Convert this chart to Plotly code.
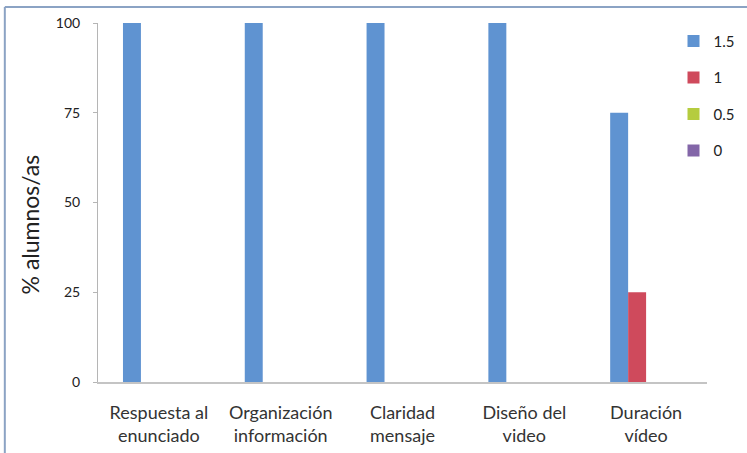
import plotly.graph_objects as go

categories = ["Respuesta al<br>enunciado", "Organización<br>información", "Claridad<br>mensaje",
              "Diseño del<br>video", "Duración<br>vídeo"]
series_names = ["1.5", "1", "0.5", "0"]
v_15 = [100, 100, 100, 100, 75]
v_1 = [0, 0, 0, 0, 25]
v_05 = [0, 0, 0, 0, 0]
v_0 = [0, 0, 0, 0, 0]
y_ticks = [0, 25, 50, 75, 100]

colors = ["#5f93d1", "#cf4a5c", "#b5cc3f", "#8366a8"]
values = [v_15, v_1, v_05, v_0]

fig = go.Figure()
for i, (name, vals, col) in enumerate(zip(series_names, values, colors)):
    fig.add_trace(go.Bar(x=categories, y=vals, name=name, legendgroup=name,
                         marker=dict(color=col, line=dict(width=0))))

FONT = "Lato"
fig.update_layout(
    width=747, height=453,
    margin=dict(l=98, r=40, t=23, b=71, autoexpand=False),
    paper_bgcolor="white", plot_bgcolor="white",
    barmode="group", bargap=0.41, bargroupgap=0,
    font=dict(family=FONT, color="#222222"),
    showlegend=True,
    legend=dict(x=0.945, xanchor="left", y=0.995, yanchor="top",
                font=dict(size=15, family=FONT, color="#222222"),
                tracegroupgap=14, itemwidth=30, bgcolor="rgba(0,0,0,0)"),
    shapes=[
        dict(type="line", xref="paper", yref="paper", x0=-0.153, x1=1.2, y0=1.0446, y1=1.0446,
             line=dict(color="#8ba3c4", width=2)),
        dict(type="line", xref="paper", yref="paper", x0=-0.153, x1=-0.153, y0=1.0446, y1=-0.3,
             line=dict(color="#8ba3c4", width=2)),
    ],
    annotations=[
        dict(text="% alumnos/as", textangle=-90, xref="paper", yref="paper",
             x=-0.111, y=0.44, xanchor="center", yanchor="middle", showarrow=False,
             font=dict(size=23, family=FONT, color="#222222")),
    ],
)
fig.update_xaxes(showline=True, linecolor="#c4c4c4", linewidth=2, ticks="",
                 showgrid=False, tickfont=dict(size=18, family=FONT, color="#333333"),
                 ticklabelstandoff=13)
fig.update_yaxes(range=[0, 100], tickvals=y_ticks, showline=True, linecolor="#b5b5b5", linewidth=1,
                 ticks="outside", ticklen=4, tickcolor="#b5b5b5", showgrid=False, zeroline=False,
                 tickfont=dict(size=14, family=FONT, color="#222222"), ticklabelstandoff=10)

fig.write_html("out.html")
